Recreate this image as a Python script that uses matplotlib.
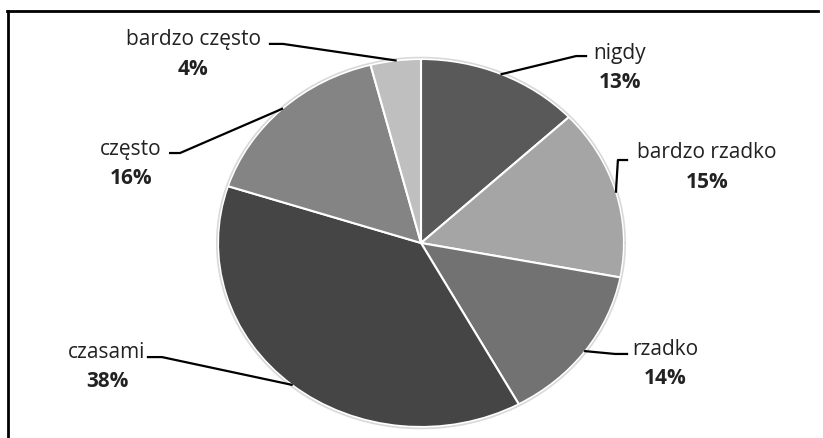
import matplotlib.pyplot as plt
import numpy as np

categories = ['nigdy', 'bardzo rzadko', 'rzadko', 'czasami', 'często', 'bardzo często']
shares = [13, 15, 14, 38, 16, 4]
colors = ['#595959', '#a5a5a5', '#727272', '#454545', '#848484', '#bfbfbf']

# label placement in axes data units (pie spans -1..1 in both directions)
label_pos = [(0.98, 1.038), (1.409, 0.495), (1.202, -0.571),
             (-1.547, -0.587), (-1.429, 0.516), (-1.123, 1.109)]
pct_drop = 0.160
# leader stub: (elbow x, stub end x, y)
leaders = [(0.764, 0.813, 1.016), (0.970, 1.015, 0.451), (0.956, 1.015, -0.603),
           (-1.276, -1.345, -0.620), (-1.187, -1.236, 0.489), (-0.680, -0.744, 1.082)]

plt.rcParams['font.family'] = ['Open Sans', 'DejaVu Sans']

fig = plt.figure(figsize=(8.23, 4.39), dpi=100)
W, H = 823, 439
ax = fig.add_axes([218 / W, (H - 428) / H, 406 / W, 368 / H])

wedges, _ = ax.pie(shares, colors=colors, startangle=90, counterclock=False,
                   wedgeprops=dict(edgecolor='white', linewidth=1.5))
ax.set_aspect('auto')
ax.set_xlim(-1, 1)
ax.set_ylim(-1, 1)

t = np.linspace(0, 2 * np.pi, 400)
ax.plot(1.006 * np.cos(t), 1.008 * np.sin(t), color='#d9d9d9', lw=1.2, clip_on=False)

for w, name, share, (lx, ly), (ex, sx, sy) in zip(wedges, categories, shares, label_pos, leaders):
    mid = np.deg2rad((w.theta1 + w.theta2) / 2)
    px, py = np.cos(mid), np.sin(mid)
    ax.plot([px, ex, sx], [py, sy, sy], color='black', lw=1.6, clip_on=False,
            solid_joinstyle='round')
    ax.text(lx, ly, name, ha='center', va='center', fontsize=15, color='#222222')
    ax.text(lx, ly - pct_drop, f'{share}%', ha='center', va='center', fontsize=15,
            fontweight='bold', color='#222222')

# outer frame (top and left edges only)
fig.add_artist(plt.Line2D([7 / W, 818 / W], [(H - 12) / H, (H - 12) / H],
                          color='black', lw=2, transform=fig.transFigure))
fig.add_artist(plt.Line2D([8 / W, 8 / W], [0, (H - 12) / H],
                          color='black', lw=2, transform=fig.transFigure))

fig.savefig('out.png', dpi=100)
